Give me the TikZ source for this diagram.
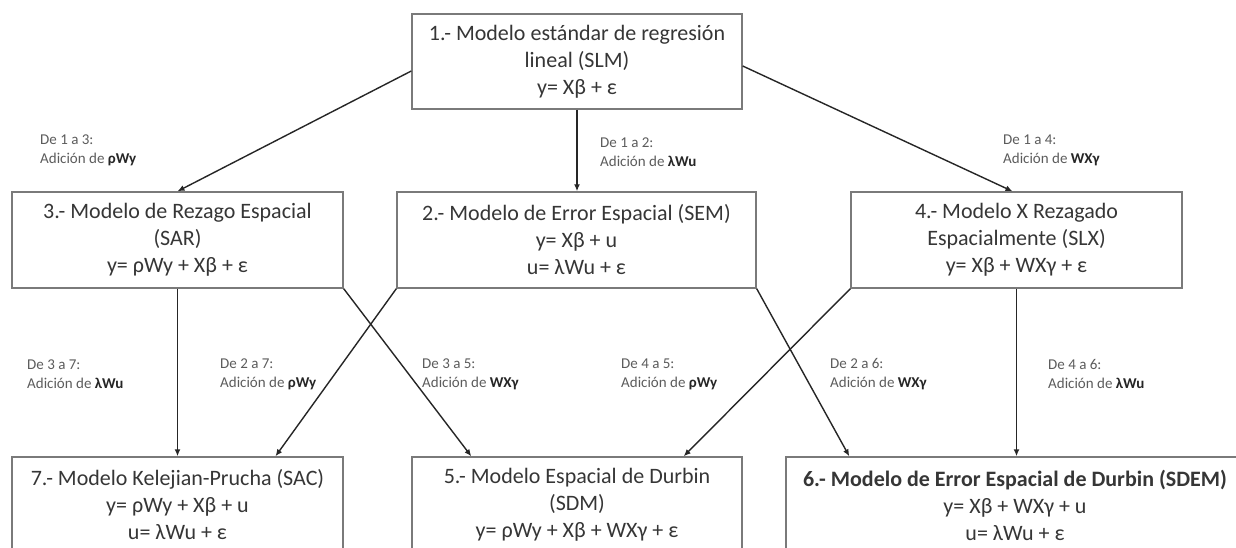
\documentclass[tikz,border=0pt]{standalone}
\usepackage{fontspec}
\setmainfont{Carlito}
\usetikzlibrary{arrows.meta,calc}
\definecolor{boxline}{HTML}{7A7A7A}
\definecolor{boxtext}{HTML}{363636}
\definecolor{lbltext}{HTML}{5C5C5C}
\definecolor{lblbold}{HTML}{262626}
\newcommand{\hl}[1]{\textcolor{lblbold}{\textbf{#1}}}
\begin{document}
\begin{tikzpicture}[x=1pt,y=-1pt,
  box/.style={draw=boxline, line width=1.4pt, fill=white, align=center,
    inner sep=0pt, text=boxtext, minimum height=96pt,
    font=\fontsize{22}{27}\selectfont},
  conn/.style={draw=black!85, line width=1.4pt,
    -{Latex[length=7pt,width=6pt]}},
  lbl/.style={anchor=west, align=left, inner sep=0pt, text=lbltext,
    font=\fontsize{15}{19}\selectfont}]
\path[use as bounding box, fill=white] (0,0) rectangle (1236,548);
\clip (0,0) rectangle (1236,548);

% model boxes
\node[box, minimum width=330pt, minimum height=95pt] (b1) at (577,61.5)
  {1.- Modelo estándar de regresión\\lineal (SLM)\\y= Xβ + ε};
\node[box, minimum width=359pt] (b2) at (576.5,240)
  {2.- Modelo de Error Espacial (SEM)\\y= Xβ + u\\u= λWu + ε};
\node[box, minimum width=331pt] (b3) at (177.5,240)
  {3.- Modelo de Rezago Espacial\\(SAR)\\y= ρWy + Xβ + ε};
\node[box, minimum width=331pt] (b4) at (1016.5,240)
  {4.- Modelo X Rezagado\\Espacialmente (SLX)\\y= Xβ + WXγ + ε};
\node[box, minimum width=331pt] (b7) at (177.5,505)
  {7.- Modelo Kelejian-Prucha (SAC)\\y= ρWy + Xβ + u\\u= λWu + ε};
\node[box, minimum width=330pt] (b5) at (577,505)
  {5.- Modelo Espacial de Durbin\\(SDM)\\y= ρWy + Xβ + WXγ + ε};
\node[box, minimum width=458pt] (b6) at (1015,505)
  {\textbf{6.- Modelo de Error Espacial de Durbin (SDEM)}\\y= Xβ + WXγ + u\\u= λWu + ε};

% connectors
\draw[conn] ([yshift=-9.5pt]b1.west) -- (b3.north);
\draw[conn] (b1.south) -- (b1.south |- b2.north);
\draw[conn] ([yshift=-4.5pt]b1.east) -- ([xshift=-4pt]b4.north);
\draw[conn] (b3.south) -- (b7.north);
\draw[conn] (b2.south west) -- ([xshift=98pt]b7.north);
\draw[conn] (b3.south east) -- ([xshift=60pt]b5.north west);
\draw[conn] (b4.south west) -- ([xshift=-59pt]b5.north east);
\draw[conn] (b2.south east) -- ([xshift=64pt]b6.north west);
\draw[conn] (b4.south) -- (b4.south |- b6.north);

% connector labels
\node[lbl] (l13) at (40,150) {De 1 a 3:\\Adición de \hl{ρWy}};
\node[lbl] (l12) at (600,152) {De 1 a 2:\\Adición de \hl{λWu}};
\node[lbl] (l14) at (1003,150) {De 1 a 4:\\Adición de \hl{WXγ}};
\node[lbl] (l37) at (27,374) {De 3 a 7:\\Adición de \hl{λWu}};
\node[lbl] (l27) at (220,374) {De 2 a 7:\\Adición de \hl{ρWy}};
\node[lbl] (l35) at (422,374) {De 3 a 5:\\Adición de \hl{WXγ}};
\node[lbl] (l45) at (621,374) {De 4 a 5:\\Adición de \hl{ρWy}};
\node[lbl] (l26) at (830,374) {De 2 a 6:\\Adición de \hl{WXγ}};
\node[lbl] (l46) at (1048,374) {De 4 a 6:\\Adición de \hl{λWu}};
\end{tikzpicture}
\end{document}
